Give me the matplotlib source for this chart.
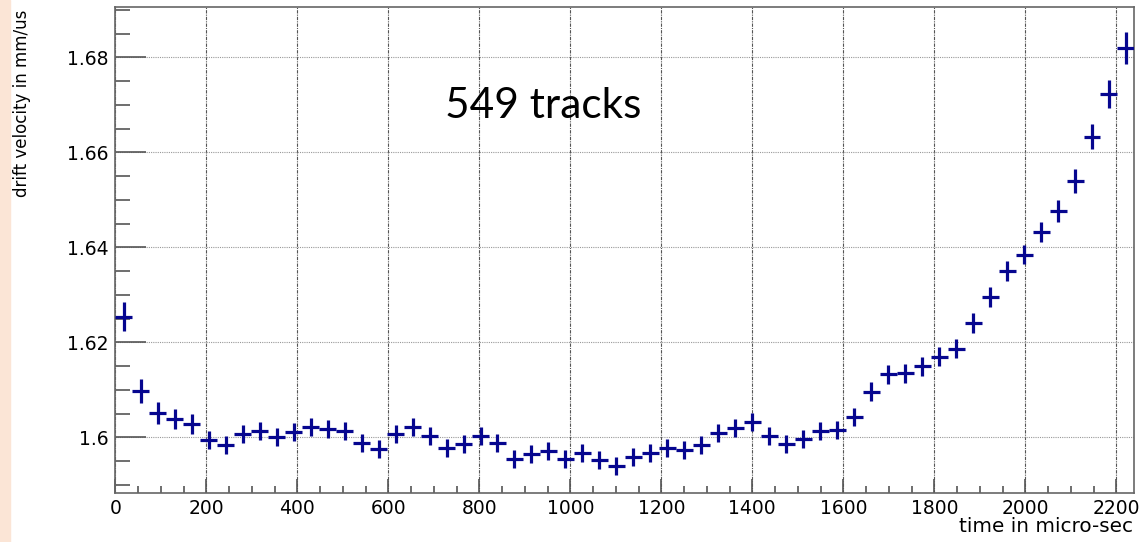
# drift velocity vs time - ROOT style histogram with error crosses

import numpy as np
import matplotlib.pyplot as plt
from matplotlib.ticker import MultipleLocator, FuncFormatter
from matplotlib.patches import Rectangle

# bin setup: 60 bins over 0..2240 micro-sec
x_lo, x_hi, n_bins = 0, 2240, 60

velocity = [1.6254, 1.6098, 1.6051, 1.6039, 1.6028, 1.5994, 1.5985, 1.6007, 1.6013, 1.6000,
            1.6011, 1.6022, 1.6017, 1.6013, 1.5989, 1.5975, 1.6008, 1.6022, 1.6003, 1.5977,
            1.5986, 1.6003, 1.5989, 1.5954, 1.5965, 1.5972, 1.5954, 1.5968, 1.5952, 1.5940,
            1.5958, 1.5968, 1.5977, 1.5973, 1.5985, 1.6010, 1.6019, 1.6032, 1.6003, 1.5986,
            1.5996, 1.6013, 1.6015, 1.6043, 1.6096, 1.6133, 1.6135, 1.6150, 1.6170, 1.6187,
            1.6240, 1.6296, 1.6350, 1.6385, 1.6432, 1.6476, 1.6540, 1.6633, 1.6723, 1.6820]

v_err = [0.0030, 0.0026, 0.0023, 0.0021, 0.0021] + [0.0019]*39 + \
        [0.0020]*6 + [0.0021]*5 + [0.0023, 0.0025, 0.0026, 0.0029, 0.0034]

y_ticks = [1.60, 1.62, 1.64, 1.66, 1.68]
x_ticks = [0, 200, 400, 600, 800, 1000, 1200, 1400, 1600, 1800, 2000, 2200]

bin_w = (x_hi - x_lo) / n_bins
t = x_lo + bin_w*(np.arange(n_bins) + 0.5)   # bin centres

fig = plt.figure(figsize=(11.45, 5.42), dpi=100)
fig.patches.append(Rectangle((0, 0), 10/1145, 1, transform=fig.transFigure,
                             color='#fbe5d6', zorder=0))

ax = fig.add_axes([0.1007, 0.0904, 0.8901, 0.8958])
ax.errorbar(t, velocity, xerr=bin_w/2, yerr=v_err, fmt='none',
            ecolor='#06068f', elinewidth=2.3, capsize=0, zorder=3)

ax.set_xlim(x_lo, x_hi)
ax.set_ylim(1.5883, 1.6905)
ax.set_xticks(x_ticks)
ax.set_yticks(y_ticks)
ax.xaxis.set_minor_locator(MultipleLocator(50))
ax.yaxis.set_minor_locator(MultipleLocator(0.005))
ax.yaxis.set_major_formatter(FuncFormatter(lambda v, p: '%g' % round(v, 3)))

ax.tick_params(axis='both', which='both', direction='in', colors='#555555',
               labelcolor='black', labelsize=13.5, width=1.2)
ax.tick_params(axis='y', which='major', length=22, pad=5)
ax.tick_params(axis='y', which='minor', length=11)
ax.tick_params(axis='x', which='major', length=10.4, pad=4)
ax.tick_params(axis='x', which='minor', length=5.2)

for s in ax.spines.values():
    s.set_color('#666666')
    s.set_linewidth(1.2)

ax.grid(True, axis='x', color='#555555', linestyle=(0, (3, 1, 1, 1)), linewidth=0.8)
ax.grid(True, axis='y', color='#999999', linestyle=(0, (1, 1)), linewidth=0.8)
ax.set_axisbelow(True)

fig.text(22/1145, 1 - 10/542, 'drift velocity in mm/us', rotation=90,
         ha='center', va='top', fontsize=12)
fig.text(1133/1145, 1 - 527/542, 'time in micro-sec', ha='right', va='center',
         fontsize=14.4)

ax.text(445/1145, 1 - 118/542, '549 tracks', transform=fig.transFigure,
        fontfamily='Lato', fontsize=30.5, ha='left', va='baseline')

plt.savefig('out.png', dpi=100)
